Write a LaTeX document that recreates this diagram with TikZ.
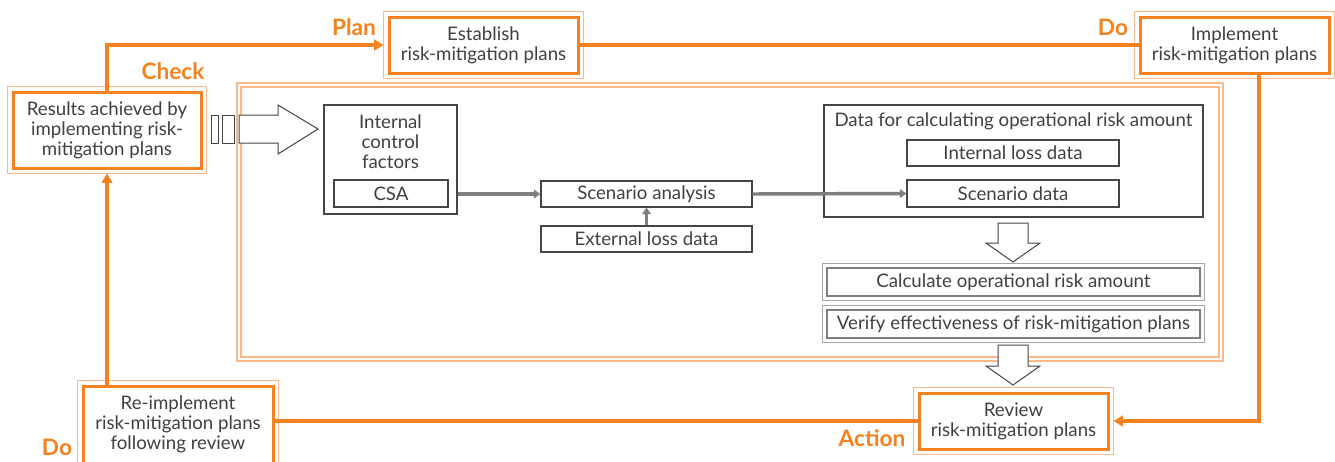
\documentclass[tikz,border=0pt]{standalone}
\usepackage{fontspec}
\setmainfont{Lato}
\usetikzlibrary{arrows.meta}
\definecolor{ora}{HTML}{F5821F}
\definecolor{lora}{HTML}{F9B98A}
\definecolor{txt}{HTML}{404040}
\definecolor{gln}{HTML}{7F7F7F}
\definecolor{lgln}{HTML}{A6A6A6}
\definecolor{dln}{HTML}{454545}
\begin{document}
\begin{tikzpicture}[x=0.75pt,y=-0.75pt,
  every node/.style={font=\fontsize{14}{15}\selectfont, text=txt, align=center, inner sep=0pt},
  obox/.style={draw=ora, line width=2.25pt, fill=white},
  outerline/.style={draw=lora, line width=0.9pt},
  tbox/.style={draw=dln, line width=0.8pt, fill=white},
  gbox/.style={draw=gln, line width=1.8pt, fill=white},
  outergray/.style={draw=lgln, line width=0.6pt},
  flow/.style={draw=ora, line width=2.6pt},
  flowarrow/.style={flow, -{Triangle[length=7pt,width=8pt]}},
  garrow/.style={draw=gln, line width=2.6pt, -{Triangle[length=5pt,width=6.5pt]}},
  blockarrow/.style={draw=dln, line width=0.75pt, fill=white, line join=miter},
  phase/.style={font=\fontsize{17}{18}\selectfont\bfseries, text=ora},
  frameline/.style={draw=lora, line width=1pt}
]
\useasboundingbox (0,0) rectangle (1335,461);

% large frame
\draw[frameline] (237,83) rectangle (1223,361);
\draw[frameline] (241,87) rectangle (1219,357);

% orange boxes
\node[obox, minimum width=188*0.75pt, minimum height=76*0.75pt] (check) at (107,130)
  {Results achieved by\\implementing risk-\\mitigation plans};
\node[obox, minimum width=189*0.75pt, minimum height=56*0.75pt] (plan) at (483.5,45)
  {Establish\\risk-mitigation plans};
\node[obox, minimum width=189*0.75pt, minimum height=56*0.75pt] (impl) at (1234.5,45)
  {Implement\\risk-mitigation plans};
\node[obox, minimum width=189*0.75pt, minimum height=56*0.75pt] (review) at (1013.5,421)
  {Review\\risk-mitigation plans};
\node[obox, minimum width=190*0.75pt, minimum height=90*0.75pt] (reimpl) at (178,431) {};
\node (reimpltext) at (178,424) {Re-implement\\risk-mitigation plans\\following review};

\foreach \n in {check,plan,impl,review,reimpl}
  \draw[outerline] ([shift={(-4,-4)}]\n.north west) rectangle ([shift={(4,4)}]\n.south east);

% phase labels
\node[phase] (lplan) at (354,27) {Plan};
\node[phase] (lcheck) at (173,71) {Check};
\node[phase] (ldo) at (1113,27) {Do};
\node[phase] (laction) at (872,438) {Action};
\node[phase] (ldo2) at (57,447) {Do};

% flow connectors
\coordinate (rturn) at (1259,421);
\draw[flowarrow] (check.north) |- ([shift={(-4,0)}]plan.west);
\draw[flow] (plan.east) -- (impl.west);
\draw[flowarrow] (impl.south -| rturn) -- (rturn) -- ([shift={(4,0)}]review.east);
\draw[flow] (review.west) -- (review.west -| reimpl.east);
\draw[flowarrow] (reimpl.north -| check.south) -- ([shift={(0,4)}]check.south);

% inner process
\node[tbox, minimum width=133*0.75pt, minimum height=109*0.75pt] (ic) at (390.5,159.5) {};
\node (ictext) at (390.5,142) {Internal\\control\\factors};
\node[tbox, minimum width=114*0.75pt, minimum height=27*0.75pt] (csa) at (391,193.5) {CSA};

\node[tbox, minimum width=211*0.75pt, minimum height=26*0.75pt] (sa) at (646.5,194) {Scenario analysis};
\node[tbox, minimum width=211*0.75pt, minimum height=26*0.75pt] (ext) at (646.5,239) {External loss data};

\node[tbox, minimum width=379*0.75pt, minimum height=112*0.75pt] (data) at (1013.5,161) {};
\node (datatitle) at (1013.5,121) {Data for calculating operational risk amount};
\node[tbox, minimum width=212*0.75pt, minimum height=26*0.75pt] (ild) at (1013,153) {Internal loss data};
\node[tbox, minimum width=212*0.75pt, minimum height=27*0.75pt] (sd) at (1013,193.5) {Scenario data};

\node[gbox, minimum width=373*0.75pt, minimum height=28*0.75pt] (calc) at (1013.5,282) {Calculate operational risk amount};
\node[gbox, minimum width=373*0.75pt, minimum height=28*0.75pt] (verify) at (1013.5,324) {Verify effectiveness of risk-mitigation plans};
\foreach \n in {calc,verify}
  \draw[outergray] ([shift={(-3,-3)}]\n.north west) rectangle ([shift={(3,3)}]\n.south east);

% gray connectors
\draw[garrow] (sa.west -| ic.east) -- (sa.west);
\draw[garrow] (sa.east) -- (sd.west);
\draw[garrow] (ext.north) -- (sa.south);

% block arrows
\draw[blockarrow] (211,115) rectangle (218,143);
\draw[blockarrow] (222,115) rectangle (234,143);
\draw[blockarrow] (239,115) -- (278,115) -- (278,105) -- (318,129) -- (278,154) -- (278,143) -- (239,143) -- cycle;
\draw[blockarrow] (998,223) -- (1028,223) -- (1028,243) -- (1040,243) -- (1013,262) -- (986,243) -- (998,243) -- cycle;
\draw[blockarrow] (998,345) -- (1028,345) -- (1028,366) -- (1040,366) -- (1013,385) -- (986,366) -- (998,366) -- cycle;
\end{tikzpicture}
\end{document}
